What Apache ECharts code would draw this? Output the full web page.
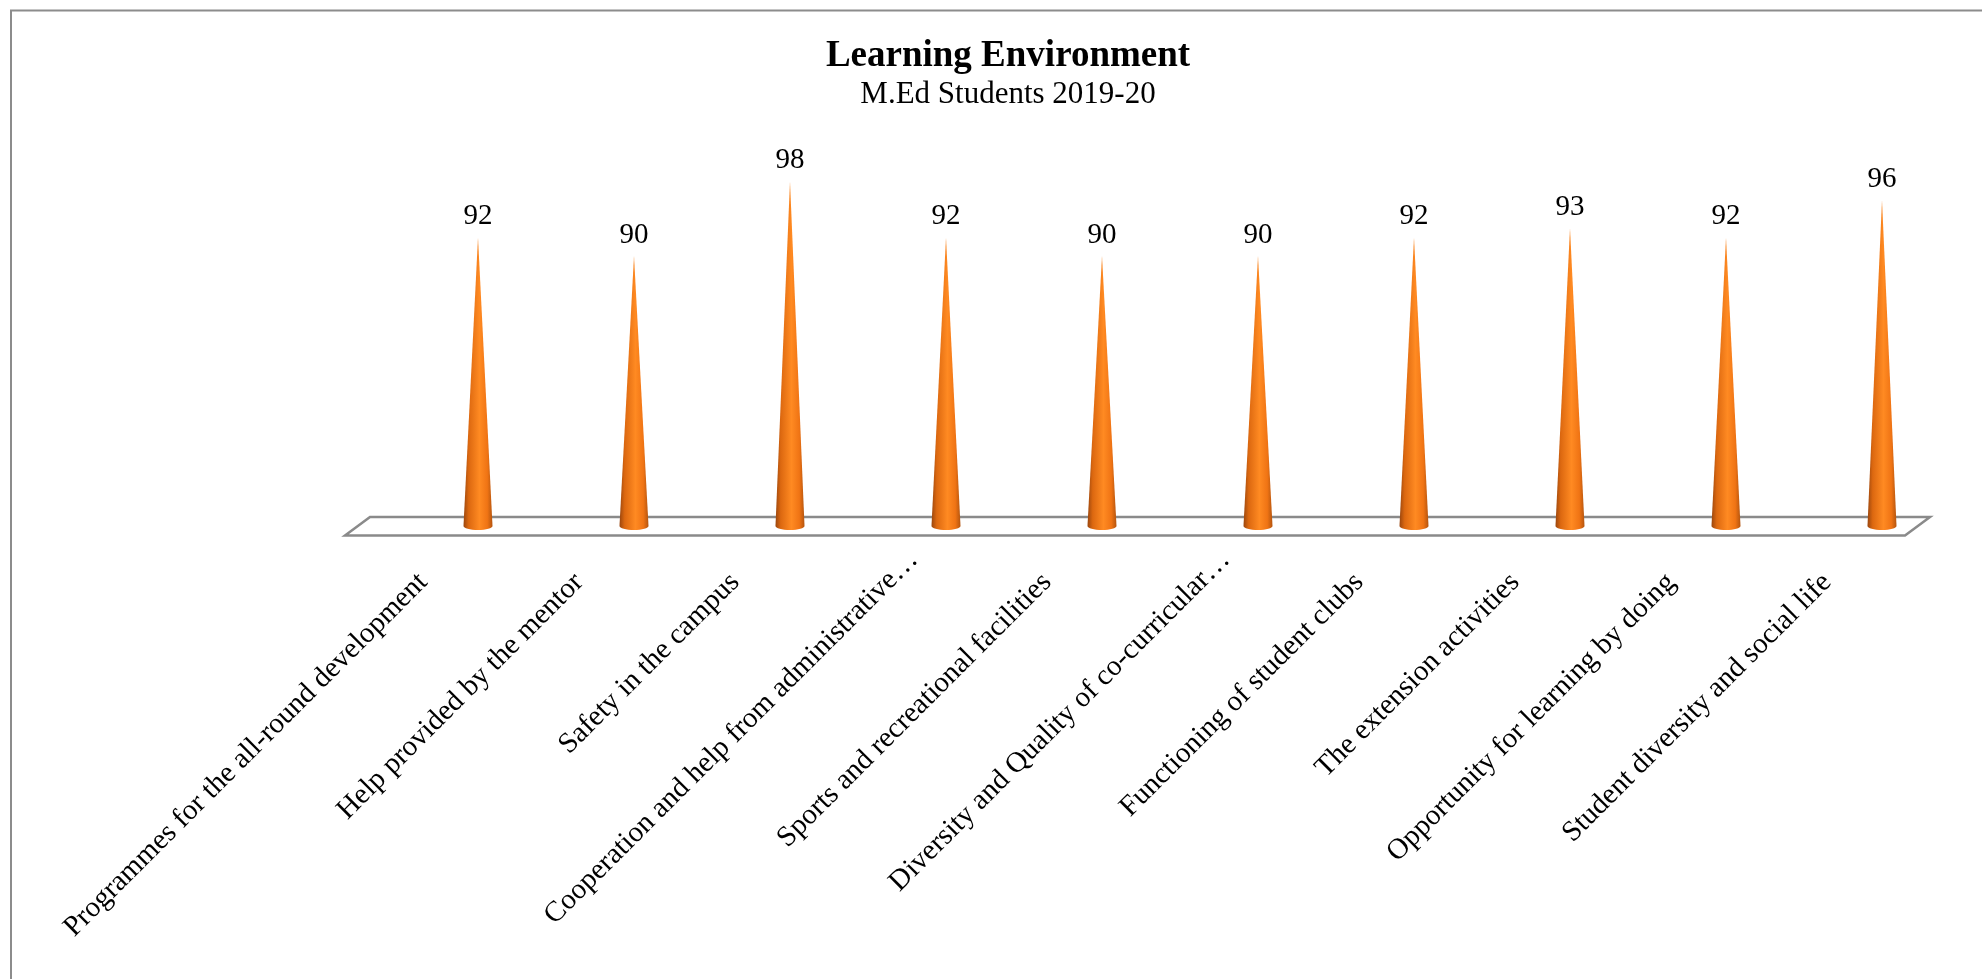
<!DOCTYPE html>
<html>
<head>
<meta charset="utf-8">
<title>Learning Environment</title>
<script src="https://cdn.jsdelivr.net/npm/echarts@6/dist/echarts.min.js"></script>
<style>
  html, body { margin: 0; padding: 0; background: #fff; }
  #main { width: 1982px; height: 979px; }
</style>
</head>
<body>
<div id="main"></div>
<script>
// categories as printed under the floor (Excel cut the two long ones)
var categories = [
  'Programmes for the all-round development',
  'Help provided by the mentor',
  'Safety in the campus',
  'Cooperation and help from administrative…',
  'Sports and recreational facilities',
  'Diversity and Quality of co-curricular…',
  'Functioning of student clubs',
  'The extension activities',
  'Opportunity for learning by doing',
  'Student diversity and social life'
]
var values = [92, 90, 98, 92, 90, 90, 92, 93, 92, 96]

var FONT = '"Liberation Serif", "Times New Roman", serif'
var AXIS_MIN = 61
var AXIS_MAX = 100

var chart = echarts.init(document.getElementById('main'))

// cone gradient, dark edges and a bright stripe right of centre
var coneFill = new echarts.graphic.LinearGradient(0, 0, 1, 0, [
  { offset: 0, color: '#9a460e' },
  { offset: 0.18, color: '#dc6810' },
  { offset: 0.55, color: '#ff8a22' },
  { offset: 0.82, color: '#f07414' },
  { offset: 1, color: '#b4540e' }
])

function renderCone(params, api) {
  var idx = api.value(0)
  var val = api.value(1)
  var tip = api.coord([idx, val])
  var base = api.coord([idx, AXIS_MIN])
  var halfW = api.size([1, 0])[0] * 0.093
  var ry = 4
  var pts = [[tip[0], tip[1]]]
  for (var k = 0; k <= 16; k++) {
    var t = Math.PI * k / 16
    pts.push([base[0] + halfW * Math.cos(t), base[1] + ry * Math.sin(t)])
  }
  return {
    type: 'group',
    children: [
      {
        type: 'polygon',
        shape: { points: pts },
        style: { fill: coneFill }
      },
      {
        type: 'text',
        style: {
          text: String(val),
          x: tip[0],
          y: tip[1] - 21,
          align: 'center',
          verticalAlign: 'middle',
          font: '29px ' + FONT,
          fill: '#000'
        }
      }
    ]
  }
}

var option = {
  backgroundColor: '#fff',
  animation: false,
  title: {
    text: 'Learning Environment',
    subtext: 'M.Ed Students 2019-20',
    left: 1003,
    top: 31,
    textAlign: 'center',
    itemGap: 2,
    textStyle: { fontFamily: FONT, fontSize: 37, fontWeight: 'bold', color: '#000', lineHeight: 40 },
    subtextStyle: { fontFamily: FONT, fontSize: 31, color: '#000', lineHeight: 34 }
  },
  graphic: [
    {
      type: 'rect',
      z: -10,
      shape: { x: 11, y: 10.5, width: 2100, height: 1100 },
      style: { fill: 'none', stroke: '#8c8c8c', lineWidth: 2 }
    },
    {
      // the floor of the 3D plot
      type: 'polygon',
      z: -5,
      shape: { points: [[370, 517], [1930, 517], [1905, 535.5], [345, 535.5]] },
      style: { fill: '#fff', stroke: '#8a8a8a', lineWidth: 2.5 }
    }
  ],
  grid: [
    { left: 400, width: 1560, top: 163, bottom: 453 },
    { left: 345, width: 1560, top: 520, bottom: 443 }
  ],
  xAxis: [
    {
      type: 'category',
      gridIndex: 0,
      data: categories,
      axisLine: { show: false },
      axisTick: { show: false },
      axisLabel: { show: false }
    },
    {
      type: 'category',
      gridIndex: 1,
      data: categories,
      axisLine: { show: false },
      axisTick: { show: false },
      axisLabel: {
        interval: 0,
        rotate: 45,
        margin: 42,
        fontFamily: FONT,
        fontSize: 29,
        color: '#000',
        // Excel lets the cut labels run a bit past their anchor
        formatter: function(v) {
          return v.slice(-1) === '…' ? '{cut|' + v + '}' : v
        },
        rich: {
          cut: {
            fontFamily: FONT,
            fontSize: 29,
            color: '#000',
            padding: [0, -32, 0, 0]
          }
        }
      }
    }
  ],
  yAxis: [
    {
      type: 'value',
      gridIndex: 0,
      min: AXIS_MIN,
      max: AXIS_MAX,
      show: false
    },
    { type: 'value', gridIndex: 1, show: false }
  ],
  series: [
    {
      type: 'custom',
      xAxisIndex: 0,
      yAxisIndex: 0,
      z: 10,
      renderItem: renderCone,
      data: values.map(function(v, i) { return [i, v] })
    }
  ]
}

chart.setOption(option)
</script>
</body>
</html>
